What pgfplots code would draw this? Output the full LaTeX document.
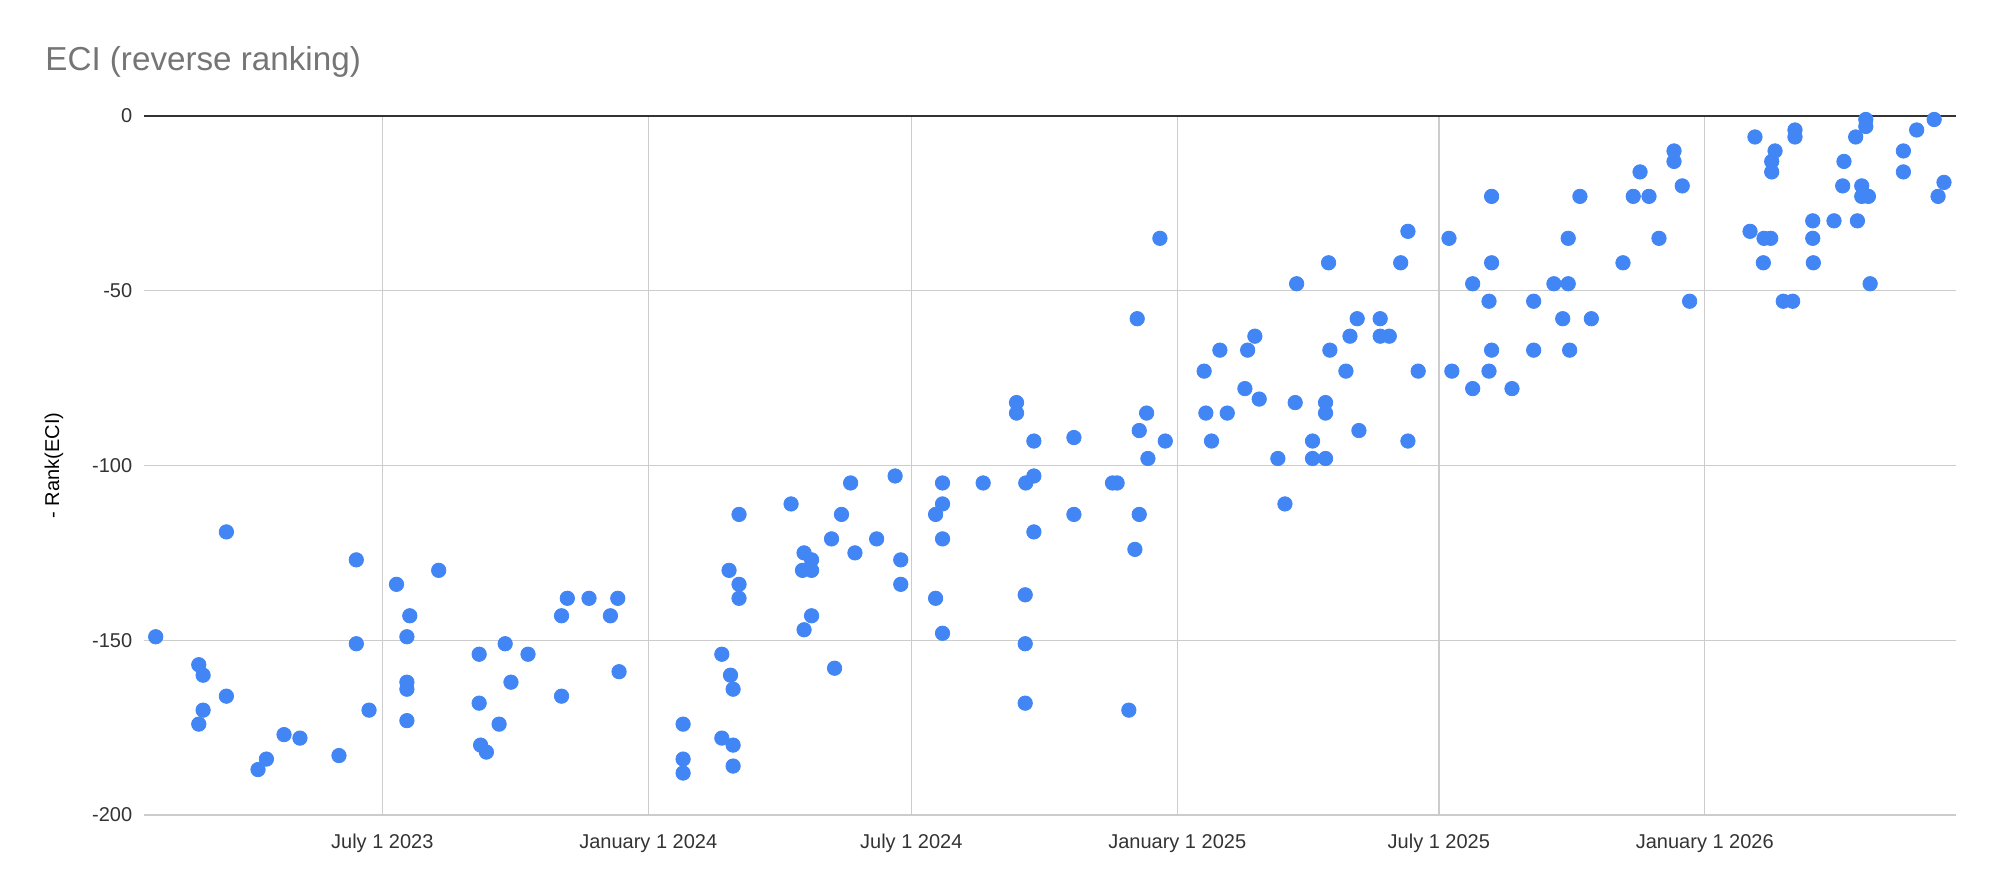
\documentclass[border=0pt]{standalone}
\usepackage{pgfplots}
\pgfplotsset{compat=1.18}
\usepackage{fontspec}
\setmainfont{Liberation Sans}
\definecolor{gblue}{HTML}{4285F4}
\definecolor{ggrid}{HTML}{CCCCCC}
\definecolor{gtitle}{HTML}{757575}
\definecolor{glab}{HTML}{333333}
\begin{document}
\begin{tikzpicture}
\path[use as bounding box] (-72pt,-37pt) rectangle (927.5pt,407.5pt);
\begin{axis}[
  at={(0,0)}, anchor=south west,
  scale only axis, width=906pt, height=349.5pt,
  xmin=-348.9, xmax=904.8, ymin=-200, ymax=0,
  clip=false,
  axis line style={draw=none},
  major tick length=0pt,
  tick style={draw=none},
  xtick={-184,0,182,366,547,731},
  xticklabels={July 1 2023,January 1 2024,July 1 2024,January 1 2025,July 1 2025,January 1 2026},
  ytick={-200,-150,-100,-50},
  yticklabels={-200,-150,-100,-50},
  extra y ticks={0},
  extra y tick labels={0},
  extra y tick style={grid style={draw=black!80, line width=0.75pt}},
  grid=major,
  grid style={draw=ggrid, line width=0.65pt},
  ticklabel style={font=\fontsize{10pt}{12pt}\selectfont, text=glab},
  xticklabel style={anchor=base, inner sep=0pt, yshift=-16.5pt},
  yticklabel style={anchor=east, inner sep=0pt, xshift=-5.7pt},
  ylabel={- Rank(ECI)},
  ylabel style={at={(axis description cs:-0.0497,0.5)}, anchor=center, font=\fontsize{10pt}{12pt}\selectfont, text=black},
]
\addplot[only marks, mark=*, mark size=3.6pt, mark options={fill=gblue, draw=gblue}] table {
x y
-340.8 -149
-311 -157
-308 -160
-308 -170
-311 -174
-291.9 -119
-291.9 -166
-270 -187
-264.2 -184
-252 -177
-241 -178
-214 -183
-202 -127
-202 -151
-193.2 -170
-174.2 -134
-167 -149
-165 -143
-167 -162
-167 -164
-167 -173
-145 -130
-117 -154
-117 -168
-116 -180
-112 -182
-103.2 -174
-99 -151
-95 -162
-83.2 -154
-60 -143
-60 -166
-56 -138
-41 -138
-26.2 -143
-21.1 -138
-20.2 -159
24.1 -174
24.1 -184
24.1 -188
50.9 -154
50.9 -178
55.9 -130
56.9 -160
58.7 -164
58.7 -180
58.7 -186
62.8 -114
62.8 -134
62.8 -138
98.8 -111
106.7 -130
107.8 -125
107.8 -147
113 -127
113 -130
113 -143
126.8 -121
128.9 -158
133.7 -114
140 -105
143 -125
158 -121
170.8 -103
174.7 -127
174.7 -134
198.8 -114
198.8 -138
203.6 -105
203.6 -111
203.6 -121
203.6 -148
231.7 -105
254.8 -82
254.8 -85
260.8 -137
260.8 -151
260.8 -168
261.2 -105
266.8 -103
266.8 -93
266.8 -119
294.5 -92
294.5 -114
321.2 -105
324.4 -105
332.5 -170
336.7 -124
338.3 -58
339.7 -90
339.7 -114
344.8 -85
345.7 -98
357.7 -93
354 -35
384.6 -73
385.8 -85
389.7 -93
395.5 -67
400.6 -85
412.8 -78
414.7 -67
419.7 -63
422.7 -81
435.6 -98
440.5 -111
447.6 -82
448.6 -48
459.6 -93
459.6 -98
468.6 -82
468.6 -85
468.6 -98
470.7 -42
471.6 -67
482.7 -73
485.5 -63
490.5 -58
491.7 -90
506.4 -58
506.4 -63
512.7 -63
520.6 -42
525.6 -33
525.6 -93
532.7 -73
554 -35
556 -73
570.4 -48
570.4 -78
581.7 -53
581.7 -73
583.5 -23
583.5 -42
583.5 -67
597.6 -78
612.6 -53
612.6 -67
626.6 -48
632.7 -58
636.5 -35
636.5 -48
637.5 -67
644.6 -23
652.5 -58
674.4 -42
681.5 -23
686.2 -16
692.4 -23
699.3 -35
709.7 -10
709.7 -13
715.4 -20
720.5 -53
762.3 -33
765.7 -6
771.5 -42
772 -35
776.6 -35
777.3 -13
777.3 -16
779.6 -10
785.3 -53
791.8 -53
793.4 -4
793.4 -6
805.7 -30
805.7 -35
806.1 -42
820.4 -30
826.4 -20
827.3 -13
835.4 -6
836.6 -30
839.6 -20
839.6 -23
842.4 -1
842.4 -3
844.2 -23
845.4 -48
868.4 -10
868.4 -16
877.6 -4
889.7 -1
892.4 -23
896.5 -19
};
\end{axis}
\node[anchor=base west, inner sep=0pt, font=\fontsize{16.6pt}{20pt}\selectfont, text=gtitle] at (-49.5pt,372.25pt) {ECI (reverse ranking)};
\end{tikzpicture}
\end{document}
